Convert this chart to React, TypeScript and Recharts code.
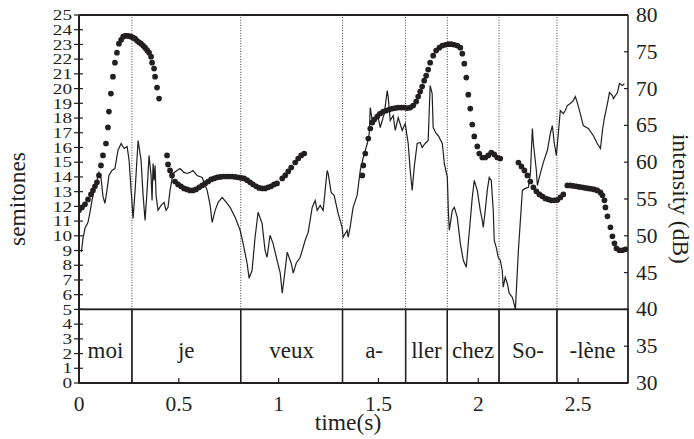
import { ComposedChart, Scatter, Line, XAxis, YAxis, ReferenceArea, ReferenceLine } from 'recharts';

const FONT = '"Liberation Serif", "Times New Roman", serif';
const INK = '#231f20';

// syllable segmentation, boundaries in seconds
const SYLLABLES = ['moi', 'je', 'veux', 'a-', 'ller', 'chez', 'So-', '-lène'];
const BOUNDS = [0, 0.265, 0.81, 1.32, 1.636, 1.845, 2.104, 2.394, 2.75];

const TIME_TICKS = [0, 0.5, 1, 1.5, 2, 2.5];
const ST_TICKS = [0, 1, 2, 3, 4, 5, 6, 7, 8, 9, 10, 11, 12, 13, 14, 15, 16, 17, 18, 19, 20, 21, 22, 23, 24, 25];
const DB_TICKS = [30, 35, 40, 45, 50, 55, 60, 65, 70, 75, 80];

// F0 frames: [time (s), semitones]
const PITCH: [number, number][] = [
  [0.000, 11.73], [0.015, 11.93], [0.030, 12.14], [0.045, 12.47], [0.060, 12.81], [0.070, 13.08],
  [0.080, 13.36], [0.090, 13.63], [0.100, 14.10], [0.110, 14.78], [0.120, 15.46], [0.135, 16.27],
  [0.145, 17.36], [0.150, 18.44], [0.160, 19.66], [0.170, 20.81], [0.180, 21.76], [0.190, 22.44],
  [0.200, 23.05], [0.211, 23.32], [0.221, 23.53], [0.231, 23.59], [0.241, 23.59], [0.251, 23.56],
  [0.261, 23.53], [0.271, 23.46], [0.281, 23.39], [0.291, 23.25], [0.301, 23.15], [0.311, 23.05],
  [0.321, 22.92], [0.331, 22.78], [0.341, 22.61], [0.351, 22.44], [0.361, 22.17], [0.366, 21.76],
  [0.376, 21.36], [0.381, 20.81], [0.391, 20.07], [0.401, 19.32],
  [0.441, 15.46], [0.446, 14.85], [0.456, 14.44], [0.466, 14.10], [0.481, 13.69], [0.496, 13.49],
  [0.511, 13.36], [0.526, 13.22], [0.541, 13.15], [0.556, 13.08], [0.571, 13.08], [0.586, 13.15],
  [0.602, 13.29], [0.617, 13.42], [0.632, 13.56], [0.647, 13.69], [0.662, 13.83], [0.677, 13.90],
  [0.692, 13.97], [0.707, 14.00], [0.722, 14.03], [0.737, 14.03], [0.752, 14.03], [0.767, 14.03],
  [0.782, 14.00], [0.797, 13.97], [0.812, 13.93], [0.827, 13.90], [0.842, 13.78],
  [0.857, 13.63], [0.872, 13.49], [0.887, 13.36], [0.902, 13.25], [0.917, 13.22], [0.932, 13.22],
  [0.947, 13.29], [0.962, 13.36], [0.977, 13.49], [0.992, 13.56],
  [1.018, 13.90], [1.033, 14.10], [1.048, 14.37], [1.063, 14.64],
  [1.083, 14.98], [1.098, 15.25], [1.113, 15.46], [1.128, 15.59],
  [1.419, 14.10], [1.424, 14.78], [1.434, 15.59], [1.449, 16.61], [1.459, 17.29], [1.469, 17.69],
  [1.479, 17.90], [1.494, 18.10], [1.509, 18.31], [1.524, 18.44], [1.539, 18.51], [1.554, 18.58],
  [1.569, 18.64], [1.584, 18.68], [1.599, 18.71], [1.614, 18.71], [1.629, 18.71], [1.644, 18.68],
  [1.659, 18.71], [1.674, 18.85], [1.689, 19.12], [1.699, 19.46], [1.709, 19.80], [1.719, 20.14],
  [1.729, 20.54], [1.739, 20.88], [1.749, 21.29], [1.759, 21.76], [1.774, 22.24], [1.789, 22.58],
  [1.805, 22.78], [1.820, 22.92], [1.835, 22.98], [1.850, 23.02], [1.865, 23.02], [1.880, 22.98],
  [1.895, 22.92], [1.910, 22.78], [1.920, 22.37], [1.930, 21.69], [1.940, 20.75], [1.950, 19.59],
  [1.960, 18.64], [1.970, 17.56], [1.980, 16.75], [1.995, 16.07], [2.005, 15.59], [2.020, 15.32],
  [2.035, 15.32], [2.050, 15.46], [2.065, 15.66], [2.080, 15.53], [2.095, 15.32], [2.110, 15.25],
  [2.201, 14.98], [2.216, 14.71], [2.231, 14.44], [2.246, 14.10], [2.261, 13.69], [2.276, 13.29],
  [2.291, 13.02], [2.306, 12.81], [2.321, 12.68], [2.336, 12.54], [2.351, 12.47], [2.366, 12.41],
  [2.381, 12.41], [2.396, 12.44], [2.411, 12.61], [2.426, 12.81],
  [2.446, 13.42], [2.461, 13.42], [2.476, 13.39], [2.491, 13.36], [2.506, 13.32], [2.521, 13.29],
  [2.536, 13.25], [2.551, 13.22], [2.566, 13.19], [2.581, 13.15], [2.596, 13.08], [2.612, 12.95],
  [2.622, 12.75], [2.632, 12.41], [2.637, 11.93], [2.647, 11.32], [2.662, 10.58], [2.672, 9.97],
  [2.682, 9.49], [2.692, 9.15], [2.707, 9.02], [2.722, 9.02], [2.737, 9.08],
];

// intensity contour: [time (s), dB]
const INTENSITY: [number, number][] = [
  [0.012, 47.8], [0.020, 49.66], [0.030, 51.02], [0.045, 51.83], [0.055, 53.19], [0.065, 54.81],
  [0.080, 56.85], [0.090, 57.53], [0.100, 58.61], [0.110, 57.93], [0.120, 55.36], [0.130, 54.41],
  [0.140, 56.17], [0.150, 58.20], [0.165, 58.88], [0.180, 59.15], [0.195, 61.59], [0.211, 62.54],
  [0.226, 61.86], [0.241, 62.14], [0.251, 60.24], [0.261, 56.17], [0.271, 52.37], [0.281, 56.17],
  [0.296, 62.95], [0.311, 60.24], [0.321, 55.49], [0.331, 52.10], [0.341, 56.17], [0.351, 60.92],
  [0.361, 58.20], [0.366, 54.81], [0.371, 59.83], [0.376, 57.53], [0.381, 59.56], [0.386, 55.49],
  [0.396, 53.46], [0.411, 54.14], [0.426, 54.54], [0.436, 53.46], [0.446, 53.86], [0.456, 56.17],
  [0.471, 58.47], [0.491, 58.88], [0.506, 59.15], [0.526, 58.61], [0.541, 58.47], [0.556, 58.61],
  [0.571, 58.88], [0.591, 58.20], [0.617, 57.93], [0.632, 56.85], [0.642, 56.17], [0.657, 54.14],
  [0.667, 51.83], [0.682, 53.46], [0.697, 54.54], [0.717, 55.22], [0.742, 54.41], [0.757, 53.86],
  [0.782, 52.51], [0.807, 50.75], [0.822, 48.98], [0.842, 46.27], [0.852, 44.24], [0.867, 45.32],
  [0.882, 49.80], [0.897, 53.19], [0.917, 51.69], [0.932, 48.03], [0.942, 47.08], [0.957, 50.07],
  [0.972, 48.98], [0.992, 46.68], [1.008, 44.92], [1.018, 42.20], [1.028, 44.37], [1.043, 47.76],
  [1.063, 46.27], [1.073, 44.92], [1.088, 46.27], [1.108, 47.08], [1.133, 49.39], [1.148, 50.47],
  [1.168, 53.86], [1.183, 54.81], [1.193, 53.46], [1.208, 54.14], [1.223, 53.46], [1.243, 58.88],
  [1.248, 58.47], [1.263, 55.90], [1.278, 55.49], [1.298, 53.05], [1.318, 51.15], [1.323, 49.80],
  [1.343, 50.75], [1.348, 49.80], [1.358, 51.15], [1.373, 53.86], [1.393, 55.49], [1.409, 58.88],
  [1.424, 60.64], [1.444, 62.54], [1.454, 63.90], [1.459, 67.42], [1.469, 65.66], [1.474, 65.25],
  [1.494, 66.61], [1.509, 64.71], [1.529, 66.61], [1.544, 69.73], [1.549, 68.78], [1.559, 65.66],
  [1.574, 66.34], [1.584, 64.31], [1.599, 66.07], [1.619, 64.31], [1.634, 65.25], [1.649, 62.54],
  [1.659, 58.88], [1.669, 56.17], [1.679, 59.29], [1.694, 62.54], [1.709, 62.68], [1.719, 62.00],
  [1.734, 62.54], [1.749, 62.95], [1.759, 70.41], [1.769, 69.32], [1.774, 64.71], [1.789, 63.90],
  [1.799, 63.63], [1.820, 62.54], [1.830, 59.83], [1.845, 57.93], [1.850, 53.46], [1.855, 50.75],
  [1.870, 53.46], [1.880, 53.86], [1.895, 52.51], [1.910, 48.98], [1.925, 46.68], [1.940, 45.73],
  [1.950, 48.98], [1.970, 55.22], [1.980, 57.53], [1.995, 56.17], [2.010, 53.46], [2.020, 52.10],
  [2.025, 51.15], [2.035, 53.46], [2.045, 56.17], [2.055, 57.93], [2.065, 57.53], [2.075, 53.46],
  [2.080, 49.39], [2.090, 48.44], [2.100, 47.08], [2.110, 46.68], [2.120, 45.32], [2.125, 43.02],
  [2.135, 44.37], [2.145, 43.56], [2.155, 42.20], [2.170, 41.66], [2.175, 41.25], [2.186, 40.0],
  [2.201, 48.03], [2.221, 56.17], [2.236, 56.44], [2.251, 56.58], [2.261, 58.47], [2.271, 64.58],
  [2.276, 62.54], [2.291, 58.88], [2.296, 56.85], [2.311, 58.47], [2.326, 59.97], [2.346, 61.59],
  [2.361, 63.90], [2.371, 64.98], [2.381, 62.54], [2.391, 60.92], [2.401, 63.90], [2.411, 67.02],
  [2.426, 66.61], [2.436, 67.02], [2.446, 67.69], [2.461, 67.97], [2.476, 68.37], [2.486, 68.92],
  [2.496, 68.10], [2.511, 66.61], [2.526, 64.98], [2.551, 64.58], [2.576, 63.63], [2.596, 62.54],
  [2.612, 61.86], [2.622, 64.31], [2.632, 66.07], [2.647, 67.97], [2.657, 69.46], [2.672, 69.05],
  [2.677, 68.64], [2.697, 69.46], [2.707, 70.68], [2.722, 70.41], [2.732, 70.68],
];

const pitchData = PITCH.map(([t, st]) => ({ t, st }));
const intensityData = INTENSITY.map(([t, db]) => ({ t, db }));

const textStyle = { fontFamily: FONT, fill: INK };

function TimeTick({ x, y, payload }: any) {
  return (
    <g>
      <line x1={x} x2={x} y1={y} y2={y - 5} stroke={INK} strokeWidth={1.2} />
      <text x={x} y={y + 28} textAnchor="middle" fontSize={21.5} {...textStyle}>{payload.value}</text>
    </g>
  );
}

// narrow-height, wide digits so 26 labels fit the 1-semitone spacing
function SemitoneTick({ x, y, payload }: any) {
  const label = String(payload.value);
  return (
    <g>
      <line x1={x - 5} x2={x + 4} y1={y} y2={y} stroke={INK} strokeWidth={1.2} />
      <text x={x - 7} y={y + 5.2} textAnchor="end" fontSize={15.5} textLength={label.length * 9.6} lengthAdjust="spacingAndGlyphs" {...textStyle}>{label}</text>
    </g>
  );
}

function DbTick({ x, y, payload }: any) {
  return (
    <g>
      <line x1={x} x2={x - 4} y1={y} y2={y} stroke={INK} strokeWidth={1.2} />
      <text x={x + 8} y={y + 7} textAnchor="start" fontSize={21.5} {...textStyle}>{payload.value}</text>
    </g>
  );
}

const axisTitle = (text: string, x: number, y: number, angle: number) => () => (
  <text x={x} y={y} transform={angle ? `rotate(${angle} ${x} ${y})` : undefined} textAnchor="middle" dominantBaseline="central" fontSize={23.5} {...textStyle}>{text}</text>
);

const syllableLabel = (text: string) => (props: any) => {
  const vb = props.viewBox;
  if (!vb) return null;
  return (
    <text x={vb.x + vb.width / 2} y={vb.y + vb.height * 0.66} textAnchor="middle" fontSize={23} {...textStyle}>{text}</text>
  );
};

function PitchDot({ cx, cy }: any) {
  return <circle cx={cx} cy={cy} r={2.85} fill={INK} />;
}

export default function App() {
  return (
    <div style={{ position: 'absolute', left: 0, top: 0, width: 694, height: 439, background: '#fff' }}>
      <ComposedChart width={694} height={439} margin={{ top: 15, right: 0, bottom: 0, left: 0 }}>
        <XAxis dataKey="t" type="number" domain={[0, 2.75]} ticks={TIME_TICKS} interval={0} allowDataOverflow
          height={56} tickSize={0} tickMargin={0} tickLine={false} tick={<TimeTick />}
          axisLine={{ stroke: INK, strokeWidth: 2 }} label={axisTitle('time(s)', 348, 422, 0)} />
        <YAxis yAxisId="st" type="number" domain={[0, 25]} ticks={ST_TICKS} interval={0} allowDataOverflow
          width={79} tickSize={0} tickMargin={0} tickLine={false} tick={<SemitoneTick />}
          axisLine={{ stroke: INK, strokeWidth: 2 }} label={axisTitle('semitones', 17, 199, -90)} />
        <YAxis yAxisId="db" orientation="right" type="number" domain={[30, 80]} ticks={DB_TICKS} interval={0} allowDataOverflow
          width={66} tickSize={0} tickMargin={0} tickLine={false} tick={<DbTick />}
          axisLine={{ stroke: INK, strokeWidth: 1.5 }} label={axisTitle('intensity (dB)', 681, 199, 90)} />

        {/* frame of the pitch panel */}
        <ReferenceLine yAxisId="st" y={25} stroke={INK} strokeWidth={2.2} />
        <ReferenceLine yAxisId="st" y={5} stroke={INK} strokeWidth={1.8} />

        {/* syllable tier and boundary guides */}
        {SYLLABLES.map((s, i) => (
          <ReferenceArea key={s} yAxisId="st" x1={BOUNDS[i]} x2={BOUNDS[i + 1]} y1={0} y2={5}
            fill="none" fillOpacity={0} stroke={INK} strokeWidth={1.3} label={syllableLabel(s)} />
        ))}
        {BOUNDS.slice(1, -1).map((b) => (
          <ReferenceLine key={b} yAxisId="st" segment={[{ x: b, y: 5 }, { x: b, y: 25 }]}
            stroke="#444" strokeWidth={1} strokeDasharray="1 1.6" />
        ))}

        <Line data={intensityData} dataKey="db" yAxisId="db" type="linear" stroke={INK} strokeWidth={1.2}
          dot={false} activeDot={false} isAnimationActive={false} />
        <Scatter data={pitchData} dataKey="st" yAxisId="st" fill={INK} shape={<PitchDot />} isAnimationActive={false} />
      </ComposedChart>
    </div>
  );
}
